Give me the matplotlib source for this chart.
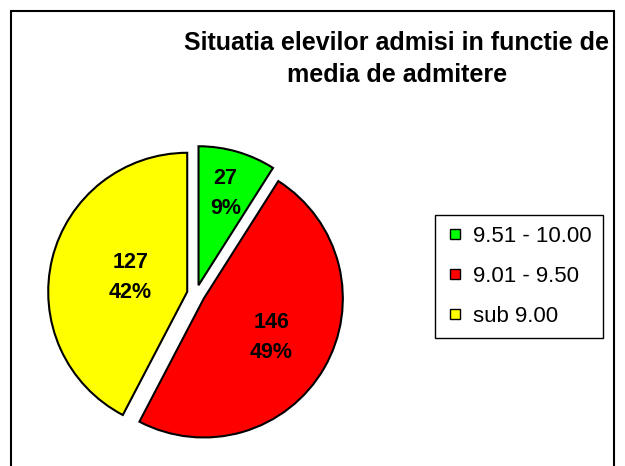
import numpy as np
import matplotlib
matplotlib.use("Agg")
from matplotlib import pyplot as plt
from matplotlib.lines import Line2D
from matplotlib.patches import Rectangle

plt.rcParams['font.family'] = ['Liberation Sans', 'DejaVu Sans']

# Elevi admisi pe intervale de medii
categorii = ["9.51 - 10.00", "9.01 - 9.50", "sub 9.00"]
elevi = [27, 146, 127]
culori = ["#00ff00", "#ff0000", "#ffff00"]

titlu = "Situatia elevilor admisi in functie de\nmedia de admitere"


def main():
    fig = plt.figure(figsize=(6.25, 4.66), dpi=100)

    # chenarul graficului (jos iese din imagine)
    fig.add_artist(Rectangle((11 / 625, -0.05), (614 - 11) / 625, 1.05 - 11 / 466,
                             transform=fig.transFigure, fill=False,
                             edgecolor="black", lw=1.5))

    ax = fig.add_axes([0.0467, 0.0112, 0.5338, 0.716])
    wedges, _ = ax.pie(elevi, colors=culori, startangle=90, counterclock=False,
                       explode=[0.065] * len(elevi),
                       wedgeprops=dict(edgecolor="black", linewidth=1.5))
    ax.set_xlim(-1.2, 1.2)
    ax.set_ylim(-1.2, 1.2)

    # etichete: numar + procent
    total = sum(elevi)
    dist = [0.69, 0.56, 0.42]
    for w, n, d in zip(wedges, elevi, dist):
        th = np.deg2rad((w.theta1 + w.theta2) / 2)
        cx, cy = w.center
        ax.text(cx + d * np.cos(th), cy + d * np.sin(th),
                "%d\n%d%%" % (n, round(100 * n / total)),
                ha="center", va="center", fontsize=15.5, fontweight="bold",
                linespacing=1.55)

    fig.text(397 / 625, 1 - 59 / 466, titlu, ha="center", va="center",
             fontsize=18, fontweight="bold", linespacing=1.4)

    handles = [Line2D([], [], ls="none", marker="s", markersize=7,
                      markerfacecolor=c, markeredgecolor="black",
                      markeredgewidth=1) for c in culori]
    leg = fig.legend(handles, categorii, loc="upper left",
                     bbox_to_anchor=(435 / 625, 1 - 215 / 466),
                     fontsize=16, frameon=True, fancybox=False,
                     edgecolor="black", framealpha=1, handlelength=0.8,
                     handletextpad=0.4, labelspacing=0.85, borderpad=0.5,
                     borderaxespad=0)
    leg.get_frame().set_linewidth(1)

    plt.savefig("out.png", dpi=100)


if __name__ == "__main__":
    main()
